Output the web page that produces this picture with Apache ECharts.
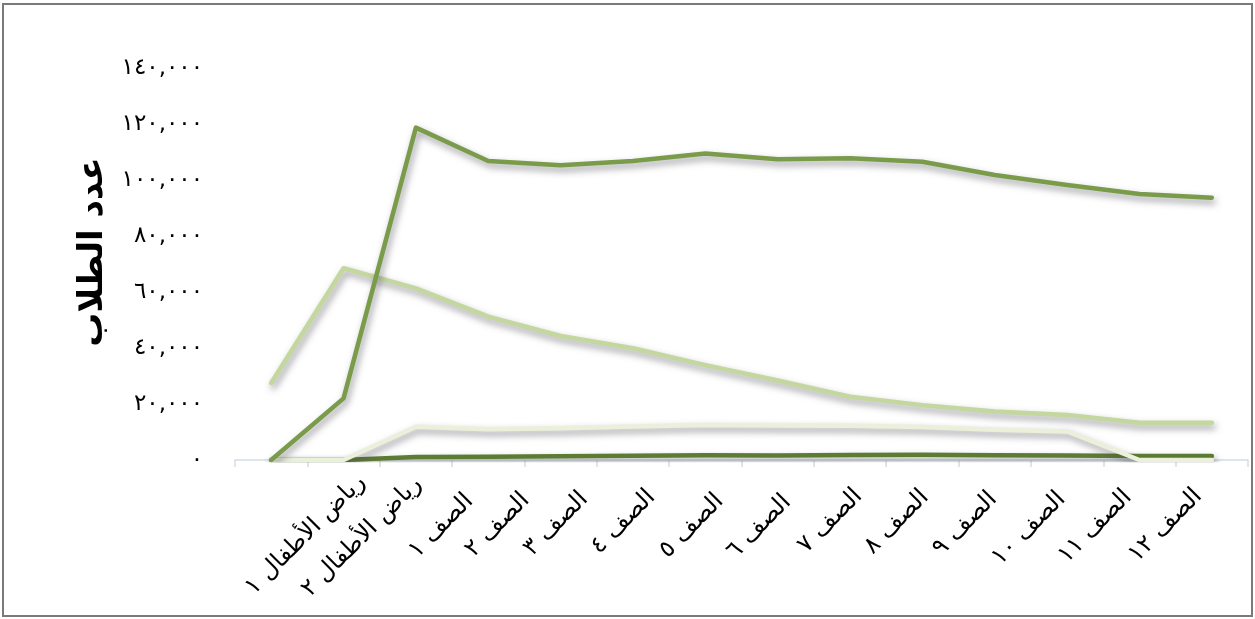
<!DOCTYPE html>
<html>
<head>
<meta charset="utf-8">
<script src="https://cdn.jsdelivr.net/npm/echarts@6/dist/echarts.min.js"></script>
<style>
html,body{margin:0;padding:0;background:#fff;}
#frame{position:absolute;left:2px;top:3px;width:1251px;height:614px;border:2px solid #7a7a7a;box-sizing:border-box;}
#chart{position:absolute;left:0;top:0;width:1255px;height:619px;}
</style>
</head>
<body>
<div id="frame"></div>
<div id="chart"></div>
<script>
const categories = ['رياض الأطفال ١','رياض الأطفال ٢','الصف ١','الصف ٢','الصف ٣','الصف ٤','الصف ٥','الصف ٦','الصف ٧','الصف ٨','الصف ٩','الصف ١٠','الصف ١١','الصف ١٢'];
const seriesMedium = [0, 22000, 118700, 106800, 105300, 106800, 109500, 107400, 107800, 106500, 101800, 98200, 95000, 93700];
const seriesLight  = [27500, 68500, 61300, 51200, 44300, 39900, 33900, 28400, 22600, 19600, 17300, 16100, 13300, 13300];
const seriesCream  = [0, 0, 11900, 11000, 11300, 12000, 12500, 12300, 12200, 11800, 10800, 10200, 0, 0];
const seriesDark   = [0, 0, 1100, 1200, 1300, 1500, 1700, 1600, 1800, 1900, 1700, 1600, 1400, 1400];
const yTicks = [0, 20000, 40000, 60000, 80000, 100000, 120000, 140000];
const yTitle = 'عدد الطلاب';

// styling only: horizontal / vertical nudge of each rotated category label (px)
const labelNudgeX = [92, 76, 55, 39, 25, 20, 16, 11, 10, 4, 0, -4, -10, -12];
const labelNudgeY = [20, 22, 39, 38, 37, 35, 39, 40, 34, 35, 37, 37, 35, 34];
const LABEL_BASE = -112;
const LABEL_HALF_H = 14;

const arabicDigits = '٠١٢٣٤٥٦٧٨٩';
function toArabic(v){
  if (v === 0) return '٠';
  const s = String(v).replace(/\B(?=(\d{3})+(?!\d))/g, ',');
  return s.replace(/\d/g, d => arabicDigits[+d]);
}

// convert a screen nudge into padding for a 45deg right-aligned label
const K = Math.SQRT1_2;
const xData = categories.map((c, i) => {
  const S = (labelNudgeY[i] - LABEL_BASE) / K;
  const D = labelNudgeX[i] / K;
  const tp = Math.max(0, (S + D) / 2);
  const p = Math.max(0, (S - D) / 2);
  return {value: c, textStyle: {verticalAlign: 'top', padding: [Math.max(0, tp - LABEL_HALF_H), p, 0, 0]}};
});

const shadow = {shadowColor:'rgba(70,70,80,0.55)', shadowBlur:7, shadowOffsetX:2, shadowOffsetY:4};
function mk(name, data, color){
  return {name, type:'line', data, symbol:'none', smooth:false,
    lineStyle:Object.assign({color, width:4.5, cap:'round', join:'round'}, shadow)};
}

const chart = echarts.init(document.getElementById('chart'), null, {renderer:'canvas'});
chart.setOption({
  animation:false,
  backgroundColor:'transparent',
  grid:{left:235, right:7, top:68, bottom:159, containLabel:false},
  xAxis:{type:'category', data:xData, boundaryGap:true,
    axisLine:{show:true, lineStyle:{color:'#d3dde6', width:1.5}},
    axisTick:{show:true, length:7, lineStyle:{color:'#d3dde6', width:1.5}},
    axisLabel:{rotate:45, margin:LABEL_BASE, fontFamily:'DejaVu Sans', fontSize:24, color:'#000', interval:0, hideOverlap:false}
  },
  yAxis:{type:'value', min:yTicks[0], max:yTicks[yTicks.length-1], interval:yTicks[1]-yTicks[0],
    name:yTitle, nameLocation:'middle', nameGap:98, nameRotate:90,
    nameTextStyle:{fontFamily:'DejaVu Sans', fontWeight:'bold', fontSize:34, color:'#000', padding:[0,0,0,24]},
    axisLine:{show:false}, axisTick:{show:false}, splitLine:{show:false},
    axisLabel:{margin:32, fontFamily:'DejaVu Sans', fontSize:23, color:'#000', formatter:toArabic}
  },
  series:[
    mk('dark', seriesDark, '#5c7c33'),
    mk('cream', seriesCream, '#ebf0db'),
    mk('light', seriesLight, '#c3d79e'),
    mk('medium', seriesMedium, '#7a9b4a')
  ]
});
</script>
</body>
</html>
